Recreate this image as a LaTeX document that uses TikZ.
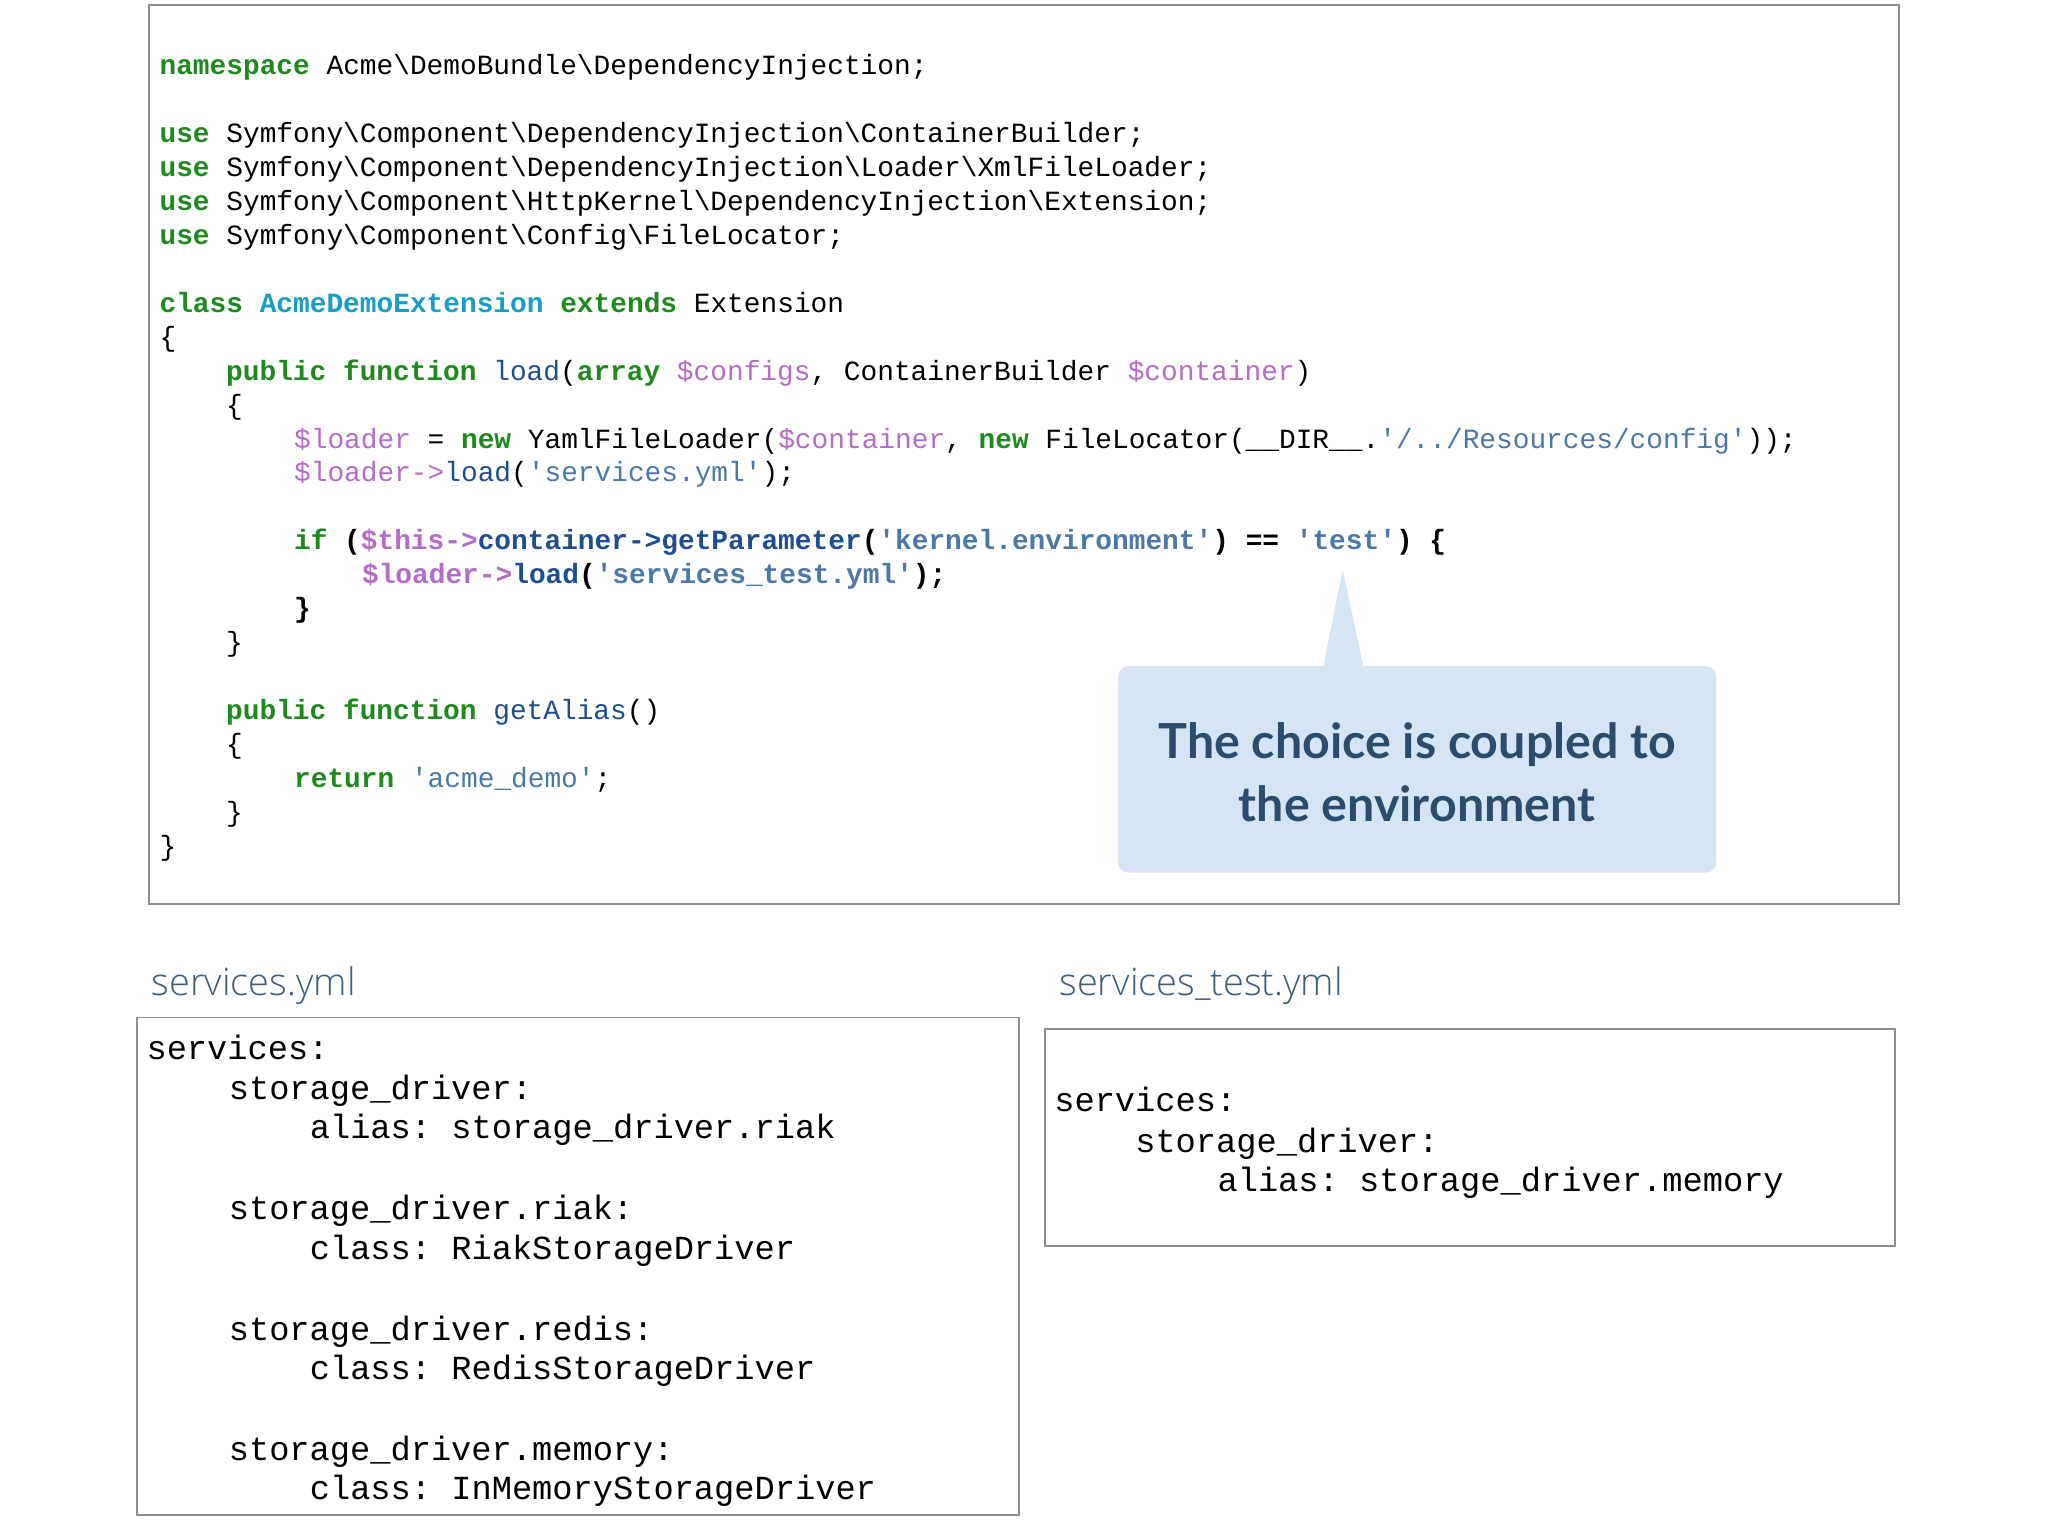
\documentclass[tikz,border=0pt]{standalone}
\usepackage{fontspec}
\setmonofont{Liberation Mono}
\newfontfamily\callfont{Lato}
\newfontfamily\titfont{Open Sans Light}
\definecolor{kw}{HTML}{1E8A1E}
\definecolor{cl}{HTML}{1A9CC4}
\definecolor{vr}{HTML}{B46CC8}
\definecolor{st}{HTML}{4A78A8}
\definecolor{fn}{HTML}{1E4E90}
\definecolor{callbg}{HTML}{D6E5F4}
\definecolor{calltx}{HTML}{2C4C6C}
\definecolor{tit}{HTML}{3E5E7E}
\newcommand{\K}[1]{{\bfseries\color{kw}#1}}
\newcommand{\Cl}[1]{{\bfseries\color{cl}#1}}
\newcommand{\V}[1]{{\color{vr}#1}}
\newcommand{\Sq}[1]{{\color{st}#1}}
\newcommand{\F}[1]{{\color{fn}#1}}
\newcommand{\bs}{\textbackslash}
\begin{document}
\begin{tikzpicture}[x=1pt,y=-1pt,
  code/.style={anchor=base west,inner sep=0pt,font=\fontsize{21.3}{26}\selectfont\ttfamily},
  yml/.style={anchor=base west,inner sep=0pt,font=\fontsize{25.8}{30}\selectfont\ttfamily},
  box/.style={draw=black!45,line width=1.3pt,fill=white},
  tit/.style={anchor=base west,inner sep=0pt,text=tit,font=\fontsize{29}{34}\selectfont\titfont}]
\useasboundingbox (0,0) rectangle (1568,1176);
\fill[white] (0,0) rectangle (1568,1176);
\draw[box] (114,4) rectangle (1454,692);
\node[code] (l1) at (122,57) {\K{namespace} Acme\bs DemoBundle\bs DependencyInjection;};
\node[code] (l2) at (122,109) {\K{use} Symfony\bs Component\bs DependencyInjection\bs ContainerBuilder;};
\node[code] (l3) at (122,135) {\K{use} Symfony\bs Component\bs DependencyInjection\bs Loader\bs XmlFileLoader;};
\node[code] (l4) at (122,161) {\K{use} Symfony\bs Component\bs HttpKernel\bs DependencyInjection\bs Extension;};
\node[code] (l5) at (122,187) {\K{use} Symfony\bs Component\bs Config\bs FileLocator;};
\node[code] (l6) at (122,239) {\K{class} \Cl{AcmeDemoExtension} \K{extends} Extension};
\node[code] (l7) at (122,265) {\{};
\node[code] (l8) at (173,291) {\K{public function} \F{load}(\K{array} \V{\$configs}, ContainerBuilder \V{\$container})};
\node[code] (l9) at (173,317) {\{};
\node[code] (l10) at (225,343) {\V{\$loader} = \K{new} YamlFileLoader(\V{\$container}, \K{new} FileLocator(\_\_DIR\_\_.\Sq{'/../Resources/config'}));};
\node[code] (l11) at (225,369) {\V{\$loader->}\F{load}(\Sq{'services.yml'});};
\node[code] (l12) at (225,421) {\bfseries\K{if} (\V{\$this->}\F{container->getParameter}(\Sq{'kernel.environment'}) == \Sq{'test'}) \{};
\node[code] (l13) at (277,447) {\bfseries\V{\$loader->}\F{load}(\Sq{'services\_test.yml'});};
\node[code] (l14) at (225,473) {\bfseries\}};
\node[code] (l15) at (173,499) {\}};
\node[code] (l16) at (173,551) {\K{public function} \F{getAlias}()};
\node[code] (l17) at (173,577) {\{};
\node[code] (l18) at (225,603) {\K{return} \Sq{'acme\_demo'};};
\node[code] (l19) at (173,629) {\}};
\node[code] (l20) at (122,655) {\}};
% callout
\fill[callbg,rounded corners=8pt] (856,510) rectangle (1314,668);
\fill[callbg] (1013,511) -- (1028,436) -- (1044,511) -- cycle;
\node[text=calltx,font=\fontsize{37}{48}\selectfont\callfont\bfseries,align=center] (call) at (1085,591) {The choice is coupled to\\the environment};
% titles
\node[tit] (t1) at (116,762) {services.yml};
\node[tit] (t2) at (811,762) {services\_test.yml};
% yml boxes
\draw[box] (105,779) rectangle (780,1160);
\draw[box] (800,788) rectangle (1451,954);
\node[yml] (y1) at (112,811) {services:};
\node[yml] (y2) at (175,842) {storage\_driver:};
\node[yml] (y3) at (237,872) {alias: storage\_driver.riak};
\node[yml] (y4) at (175,934) {storage\_driver.riak:};
\node[yml] (y5) at (237,964) {class: RiakStorageDriver};
\node[yml] (y6) at (175,1026) {storage\_driver.redis:};
\node[yml] (y7) at (237,1056) {class: RedisStorageDriver};
\node[yml] (y8) at (175,1118) {storage\_driver.memory:};
\node[yml] (y9) at (237,1148) {class: InMemoryStorageDriver};
\node[yml] (z1) at (807,851) {services:};
\node[yml] (z2) at (869,882) {storage\_driver:};
\node[yml] (z3) at (932,912) {alias: storage\_driver.memory};
\end{tikzpicture}
\end{document}
